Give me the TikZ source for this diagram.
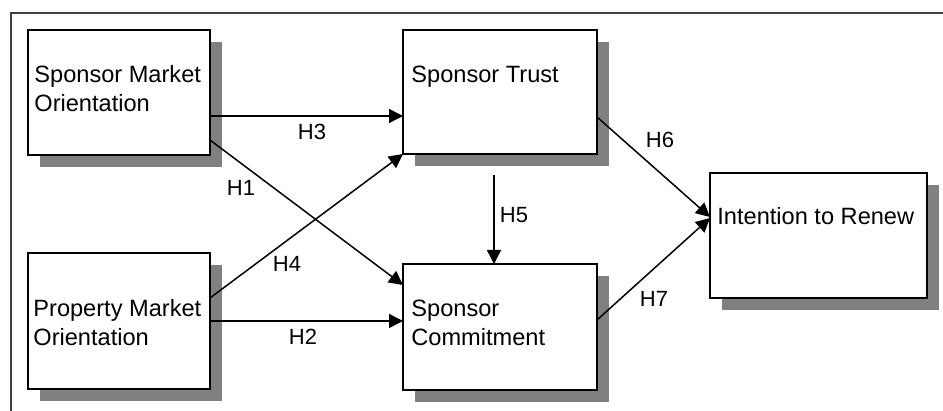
\documentclass[tikz,border=0pt]{standalone}
\usepackage{fontspec}
\setmainfont{Liberation Sans}
\usetikzlibrary{arrows.meta,shadows,calc}
\definecolor{shadowgray}{HTML}{808080}
\definecolor{framegray}{HTML}{404040}
\begin{document}
\begin{tikzpicture}[x=0.5pt,y=-0.5pt,
  box/.style={draw=black,line width=0.8pt,fill=white,anchor=north west,
    inner sep=0pt,outer sep=0pt,
    drop shadow={shadow xshift=6pt,shadow yshift=-6pt,fill=shadowgray,opacity=1}},
  txt/.style={anchor=base west,inner sep=0pt,font=\fontsize{11.8pt}{14.5pt}\selectfont},
  lbl/.style={inner sep=0pt,font=\fontsize{11pt}{13pt}\selectfont},
  arr/.style={draw=black,line width=0.75pt,-{Triangle[length=7pt,width=7pt]}}]
\useasboundingbox (0,0) rectangle (943,411);
% frame
\draw[framegray,line width=1pt] (11,411) -- (11,13) -- (943,13);
% boxes
\node[box,minimum width=91pt,minimum height=62.5pt] (smo) at (28,30) {};
\node[box,minimum width=91pt,minimum height=68pt] (pmo) at (28,253) {};
\node[box,minimum width=97pt,minimum height=62pt] (st) at (403,30) {};
\node[box,minimum width=97pt,minimum height=63pt] (sc) at (403,264) {};
\node[box,minimum width=108.5pt,minimum height=62.5pt] (ir) at (710,173) {};
% texts
\node[txt] (smot) at (34,83) {\parbox[t]{150pt}{Sponsor Market\\Orientation}};
\node[txt] (pmot) at (33,317) {\parbox[t]{150pt}{Property Market\\Orientation}};
\node[txt] (stt) at (411,83) {Sponsor Trust};
\node[txt] (sct) at (411,317) {\parbox[t]{150pt}{Sponsor\\Commitment}};
\node[txt] (irt) at (717,225) {Intention to Renew};
% connectors
\coordinate (h5s) at (494,175);
\draw[arr] (smo.east |- 0,116) -- (st.west |- 0,116);
\draw[arr] (smo.east |- 0,140) -- (sc.west |- 0,285);
\draw[arr] (pmo.east |- 0,298) -- (st.south west);
\draw[arr] (pmo.east |- 0,321) -- (sc.west |- 0,321);
\draw[arr] (h5s) -- (sc.north -| h5s);
\draw[arr] (st.east |- 0,117) -- (ir.west |- 0,217);
\draw[arr] (sc.east |- 0,320) -- (ir.west |- 0,218);
% labels
\node[lbl] (l3) at (312,132) {H3};
\node[lbl] (l1) at (241,188) {H1};
\node[lbl] (l4) at (287,264) {H4};
\node[lbl] (l2) at (303,337) {H2};
\node[lbl] (l5) at (514,215) {H5};
\node[lbl] (l6) at (660,140) {H6};
\node[lbl] (l7) at (654,299) {H7};
\end{tikzpicture}
\end{document}
